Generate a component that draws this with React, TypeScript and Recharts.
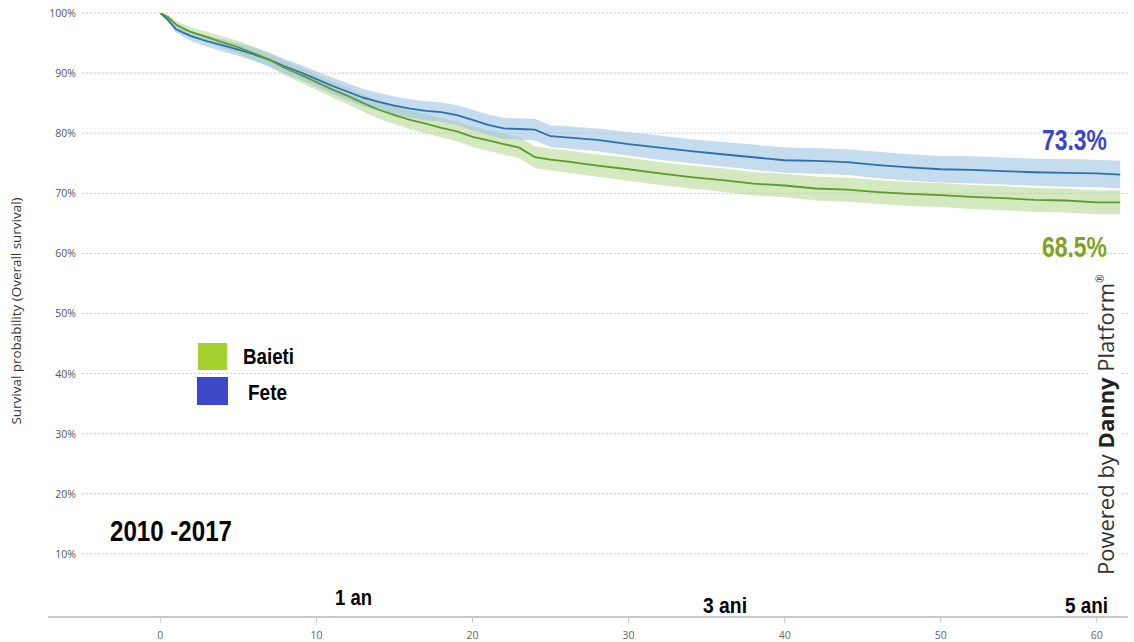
import { ComposedChart, Area, Line, XAxis, YAxis, ReferenceLine } from 'recharts';

// months since diagnosis
const months = [
  0, 0.5, 1, 1.5, 2, 3, 4, 5, 6, 7, 8, 9, 10, 11, 12, 13, 14, 15, 16, 17, 18, 19, 20,
  21, 22, 23, 24, 25, 26, 28, 30, 32, 34, 36, 38, 40, 42, 44, 46, 48, 50, 52, 54, 56, 58, 60, 61.5,
];

// Fete (girls) survival %
const fete = [
  100, 98.8, 97.3, 96.7, 96.1, 95.3, 94.6, 93.9, 93.1, 92.2, 91.1, 90.1, 89.0, 87.9, 86.9, 85.9,
  85.2, 84.6, 84.1, 83.7, 83.5, 83.0, 82.2, 81.4, 80.8, 80.7, 80.6, 79.5, 79.3, 78.9, 78.2, 77.6,
  77.0, 76.5, 76.0, 75.5, 75.4, 75.2, 74.7, 74.3, 74.0, 73.9, 73.7, 73.5, 73.4, 73.3, 73.1,
];
const feteCi = [
  0, 0.4, 0.6, 0.7, 0.8, 0.9, 1.0, 1.05, 1.1, 1.15, 1.2, 1.25, 1.3, 1.35, 1.4, 1.45, 1.5, 1.5,
  1.55, 1.6, 1.6, 1.65, 1.7, 1.7, 1.75, 1.75, 1.8, 1.8, 1.85, 1.9, 1.95, 2.0, 2.0, 2.05, 2.1, 2.1,
  2.15, 2.15, 2.2, 2.2, 2.2, 2.25, 2.25, 2.25, 2.3, 2.3, 2.3,
];

// Baieti (boys) survival %
const baieti = [
  100, 99.3, 98.1, 97.4, 96.8, 96.0, 95.1, 94.3, 93.3, 92.2, 90.8, 89.7, 88.5, 87.3, 86.2, 85.0,
  83.9, 83.0, 82.2, 81.6, 80.9, 80.3, 79.4, 78.8, 78.2, 77.6, 76.0, 75.6, 75.3, 74.6, 74.0, 73.3,
  72.7, 72.2, 71.6, 71.3, 70.8, 70.6, 70.2, 69.9, 69.7, 69.4, 69.2, 68.9, 68.8, 68.5, 68.5,
];
const baietiCi = [
  0, 0.4, 0.6, 0.7, 0.8, 0.9, 1.0, 1.05, 1.1, 1.15, 1.2, 1.25, 1.3, 1.35, 1.4, 1.45, 1.5, 1.5,
  1.55, 1.6, 1.6, 1.65, 1.7, 1.7, 1.75, 1.75, 1.8, 1.8, 1.85, 1.85, 1.9, 1.9, 1.9, 1.95, 1.95, 1.95,
  2.0, 2.0, 2.0, 2.0, 2.0, 2.0, 2.0, 2.0, 2.0, 2.0, 2.0,
];

const xTicks = [0, 10, 20, 30, 40, 50, 60];
const yTicks = [10, 20, 30, 40, 50, 60, 70, 80, 90, 100];

const BLUE_LINE = '#2a72ad';
const GREEN_LINE = '#5c9c2a';
const NARROW = '"Liberation Sans Narrow", "Arial Narrow", "Liberation Sans", sans-serif';
const UI = '"Open Sans", "Noto Sans", sans-serif';

const data = months.map((m, i) => ({
  m,
  fete: fete[i],
  baieti: baieti[i],
  feteBand: [fete[i] - feteCi[i], fete[i] + feteCi[i]],
  baietiBand: [baieti[i] - baietiCi[i], baieti[i] + baietiCi[i]],
}));

const renderYTick = (p: any) => (
  <text x={76} y={p.y} dy={4} textAnchor="end" fontSize={10.5} fill="#555" fontFamily={UI}>
    {p.payload.value}%
  </text>
);

// condensed bold label, squeezed to the width it has in the original
function Narrow({ x, y, w, size, color = '#000', children, anchor = 'start' }: any) {
  return (
    <text
      x={x}
      y={y}
      fontSize={size}
      fontWeight="bold"
      fontFamily={NARROW}
      fill={color}
      textAnchor={anchor}
      textLength={w}
      lengthAdjust="spacingAndGlyphs"
    >
      {children}
    </text>
  );
}

export default function App() {
  return (
    <div style={{ position: 'absolute', left: 0, top: 0, width: 1134, height: 642, background: '#fff' }}>
      <ComposedChart
        width={1134}
        height={642}
        data={data}
        margin={{ top: 13, right: 6, left: 0, bottom: 0 }}
      >
        <XAxis
          dataKey="m"
          type="number"
          domain={[-7.2, 62]}
          ticks={xTicks}
          allowDataOverflow
          height={25}
          axisLine={{ stroke: '#c8c8c8', strokeWidth: 2 }}
          tickLine={{ stroke: '#c8c8c8' }}
          tickSize={6}
          tickMargin={9}
          tick={{ fontSize: 10.5, fill: '#666', fontFamily: UI }}
        />
        <YAxis
          type="number"
          domain={[-0.5, 100]}
          ticks={yTicks}
          width={48}
          axisLine={false}
          tickLine={false}
          tick={renderYTick}
          allowDataOverflow
        />
        {yTicks.map((v) => (
          <ReferenceLine
            key={v}
            segment={[{ x: -5, y: v }, { x: 62, y: v }]}
            stroke="#c4c4c4"
            strokeDasharray="2 2"
          />
        ))}
        <Area
          type="linear"
          dataKey="baietiBand"
          stroke="none"
          fill="#b9da96"
          fillOpacity={0.6}
          isAnimationActive={false}
        />
        <Area
          type="linear"
          dataKey="feteBand"
          stroke="none"
          fill="#9fc3e3"
          fillOpacity={0.6}
          isAnimationActive={false}
        />
        <Line
          type="linear"
          dataKey="fete"
          stroke={BLUE_LINE}
          strokeWidth={1.8}
          dot={false}
          isAnimationActive={false}
        />
        <Line
          type="linear"
          dataKey="baieti"
          stroke={GREEN_LINE}
          strokeWidth={1.8}
          dot={false}
          isAnimationActive={false}
        />
      </ComposedChart>

      <svg
        width={1134}
        height={642}
        style={{ position: 'absolute', left: 0, top: 0, pointerEvents: 'none' }}
      >
        <text
          transform="translate(21,311) rotate(-90)"
          textAnchor="middle"
          fontSize={12}
          fill="#333"
          fontFamily={UI}
          textLength={227}
          lengthAdjust="spacingAndGlyphs"
        >
          Survival probability (Overall survival)
        </text>

        {/* legend */}
        <rect x={198} y={343} width={29} height={27} fill="#a4d12e" />
        <Narrow x={243} y={364} w={51} size={22}>Baieti</Narrow>
        <rect x={197} y={377} width={31} height={28} fill="#3d48c9" />
        <Narrow x={248} y={400} w={39} size={22}>Fete</Narrow>

        <Narrow x={110} y={541} w={122} size={29}>2010 -2017</Narrow>

        <Narrow x={1042} y={150} w={65} size={29} color="#3c45c6">73.3%</Narrow>
        <Narrow x={1042} y={257} w={65} size={29} color="#7ea322">68.5%</Narrow>

        <Narrow x={335} y={605} w={37} size={22}>1 an</Narrow>
        <Narrow x={703} y={613} w={44} size={22}>3 ani</Narrow>
        <Narrow x={1065} y={613} w={43} size={22}>5 ani</Narrow>

        {/* watermark */}
        <rect x={1090} y={276} width={32} height={302} fill="#fff" />
        <text
          transform="translate(1114,575) rotate(-90)"
          fontSize={22}
          fill="#333"
          fontFamily={UI}
        >
          Powered by <tspan fontWeight="bold" fill="#222">Danny</tspan> Platform
          <tspan fontSize={10} dy={-10}>®</tspan>
        </text>
      </svg>
    </div>
  );
}
